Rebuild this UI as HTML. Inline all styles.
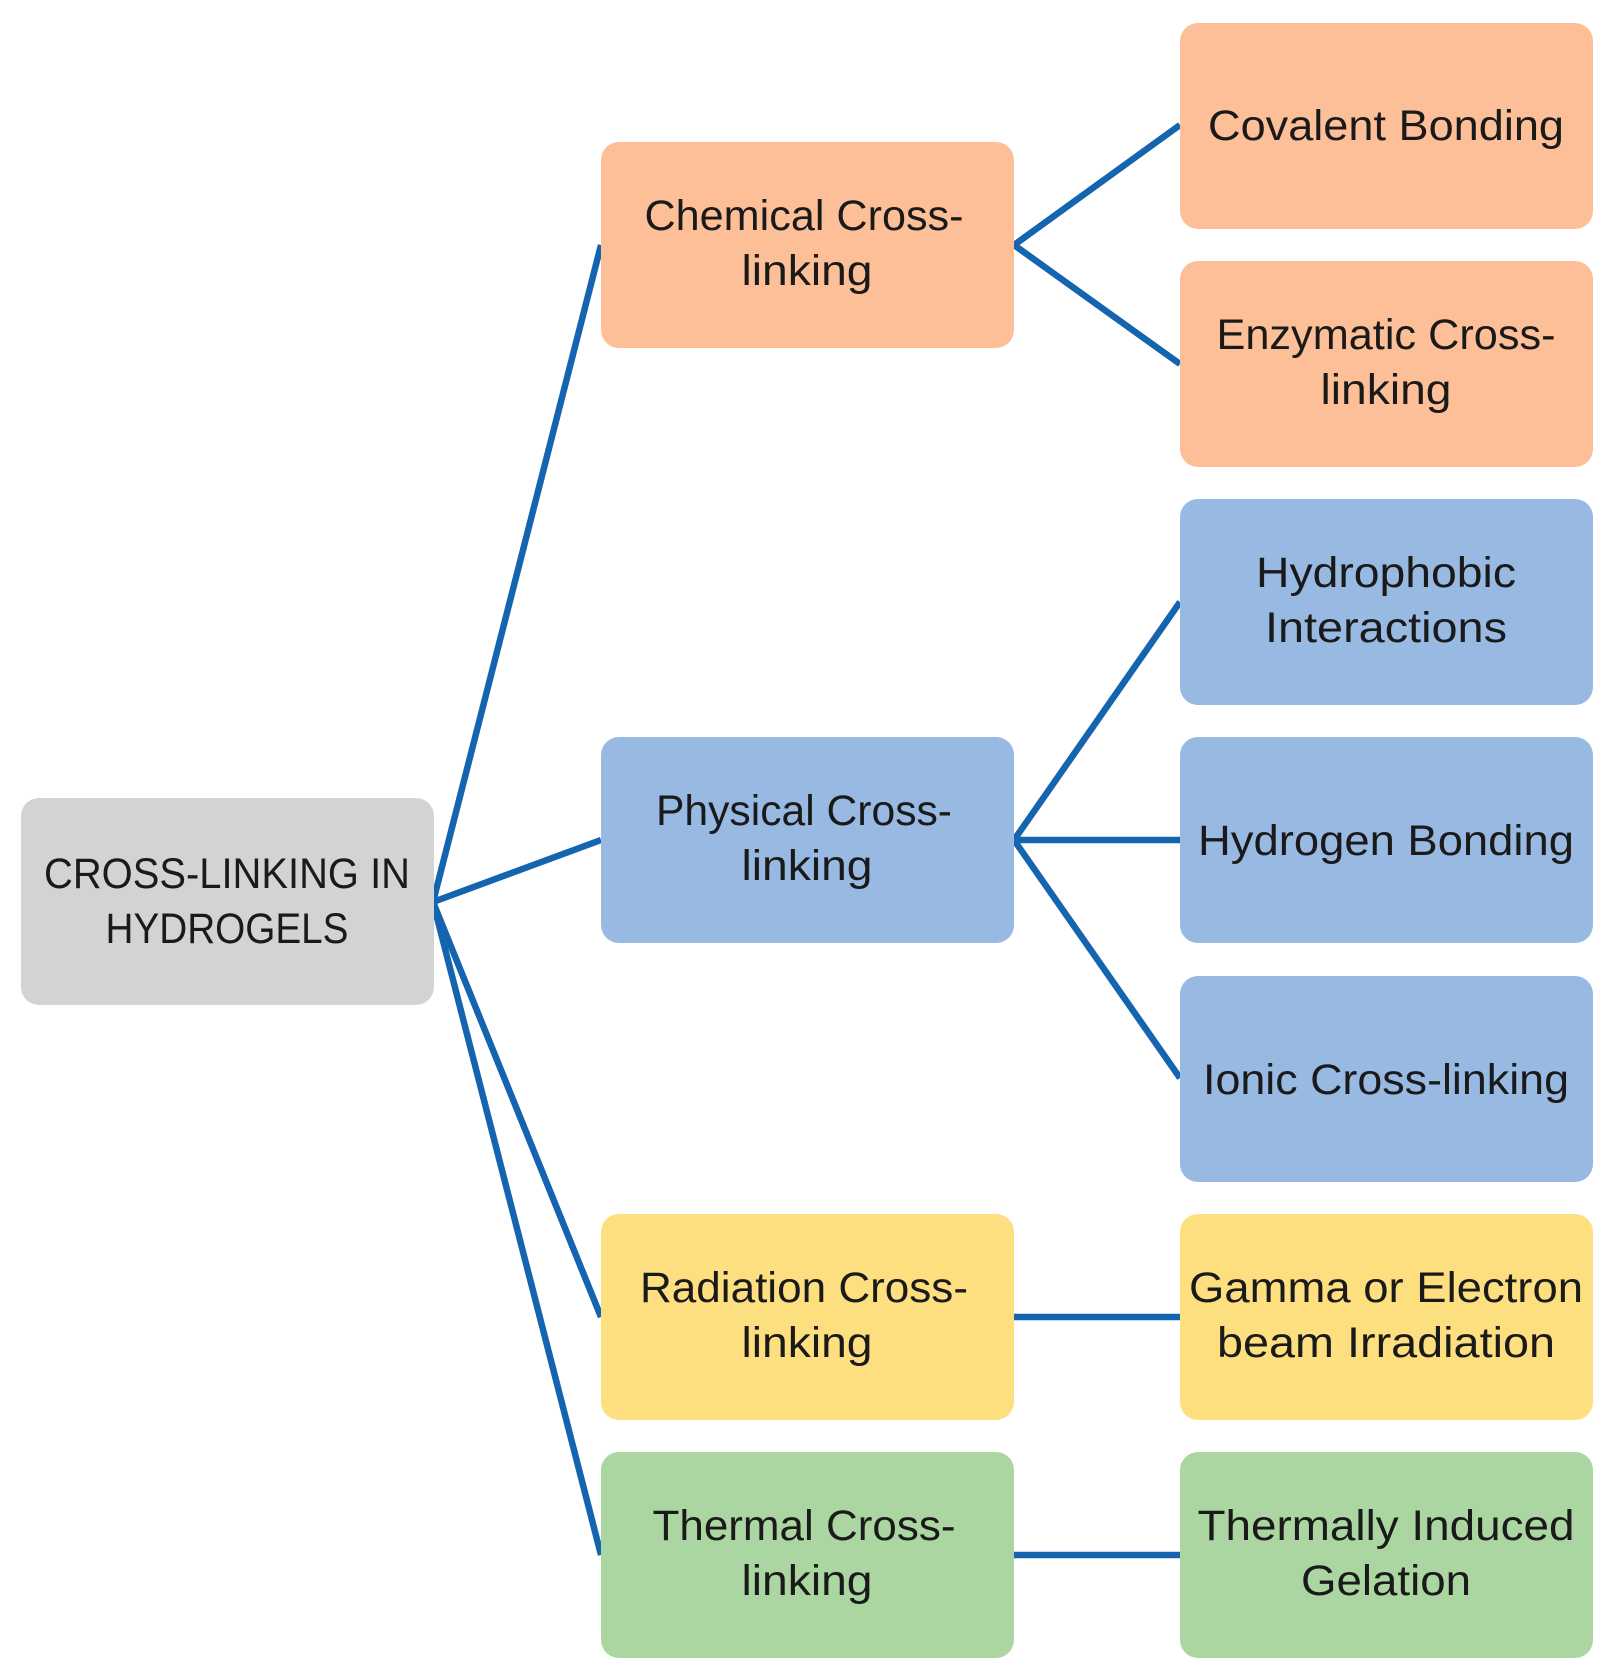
<!DOCTYPE html>
<html><head><meta charset="utf-8"><style>html,body{margin:0;padding:0;background:#fff}svg{display:block}</style></head>
<body>
<svg width="1611" height="1677" viewBox="0 0 1611 1677" xmlns="http://www.w3.org/2000/svg" font-family="Liberation Sans, sans-serif" font-size="43" fill="#1a1a1a">
<g stroke="#1464b0" stroke-width="6.5" fill="none" stroke-linecap="butt">
<line x1="433" y1="902" x2="601" y2="245"/>
<line x1="433" y1="902" x2="601" y2="840"/>
<line x1="433" y1="902" x2="601" y2="1317"/>
<line x1="433" y1="902" x2="601" y2="1555"/>
<polyline points="1180,125 1014,245 1180,364"/>
<polyline points="1180,602 1014,840 1180,1078"/>
<line x1="1014" y1="840" x2="1180" y2="840"/>
<line x1="1014" y1="1317" x2="1180" y2="1317"/>
<line x1="1014" y1="1555" x2="1180" y2="1555"/>
</g>
<g>
<rect x="21" y="798" width="413" height="207" rx="18" fill="#d3d3d3"/>
<rect x="601" y="142" width="413" height="206" rx="18" fill="#fdbf97"/>
<rect x="601" y="737" width="413" height="206" rx="18" fill="#98b9e2"/>
<rect x="601" y="1214" width="413" height="206" rx="18" fill="#fddf7f"/>
<rect x="601" y="1452" width="413" height="206" rx="18" fill="#abd6a2"/>
<rect x="1180" y="23" width="413" height="206" rx="18" fill="#fdbf97"/>
<rect x="1180" y="261" width="413" height="206" rx="18" fill="#fdbf97"/>
<rect x="1180" y="499" width="413" height="206" rx="18" fill="#98b9e2"/>
<rect x="1180" y="737" width="413" height="206" rx="18" fill="#98b9e2"/>
<rect x="1180" y="976" width="413" height="206" rx="18" fill="#98b9e2"/>
<rect x="1180" y="1214" width="413" height="206" rx="18" fill="#fddf7f"/>
<rect x="1180" y="1452" width="413" height="206" rx="18" fill="#abd6a2"/>
</g>
<g text-anchor="middle">
<text x="227" y="888" textLength="366" lengthAdjust="spacingAndGlyphs">CROSS-LINKING IN</text>
<text x="227" y="943" textLength="243" lengthAdjust="spacingAndGlyphs">HYDROGELS</text>

<text x="804" y="230" textLength="319" lengthAdjust="spacingAndGlyphs">Chemical Cross-</text>
<text x="807" y="285" textLength="131" lengthAdjust="spacingAndGlyphs">linking</text>
<text x="804" y="825" textLength="296" lengthAdjust="spacingAndGlyphs">Physical Cross-</text>
<text x="807" y="880" textLength="131" lengthAdjust="spacingAndGlyphs">linking</text>
<text x="804" y="1302" textLength="328" lengthAdjust="spacingAndGlyphs">Radiation Cross-</text>
<text x="807" y="1357" textLength="131" lengthAdjust="spacingAndGlyphs">linking</text>
<text x="804" y="1540" textLength="303" lengthAdjust="spacingAndGlyphs">Thermal Cross-</text>
<text x="807" y="1595" textLength="131" lengthAdjust="spacingAndGlyphs">linking</text>

<text x="1386" y="140" textLength="356" lengthAdjust="spacingAndGlyphs">Covalent Bonding</text>
<text x="1386" y="349" textLength="339" lengthAdjust="spacingAndGlyphs">Enzymatic Cross-</text>
<text x="1386" y="404" textLength="131" lengthAdjust="spacingAndGlyphs">linking</text>
<text x="1386" y="587" textLength="260" lengthAdjust="spacingAndGlyphs">Hydrophobic</text>
<text x="1386" y="642" textLength="242" lengthAdjust="spacingAndGlyphs">Interactions</text>
<text x="1386" y="855" textLength="376" lengthAdjust="spacingAndGlyphs">Hydrogen Bonding</text>
<text x="1386" y="1094" textLength="366" lengthAdjust="spacingAndGlyphs">Ionic Cross-linking</text>
<text x="1386" y="1302" textLength="394" lengthAdjust="spacingAndGlyphs">Gamma or Electron</text>
<text x="1386" y="1357" textLength="338" lengthAdjust="spacingAndGlyphs">beam Irradiation</text>
<text x="1386" y="1540" textLength="377" lengthAdjust="spacingAndGlyphs">Thermally Induced</text>
<text x="1386" y="1595" textLength="170" lengthAdjust="spacingAndGlyphs">Gelation</text>
</g>
</svg>
</body></html>
